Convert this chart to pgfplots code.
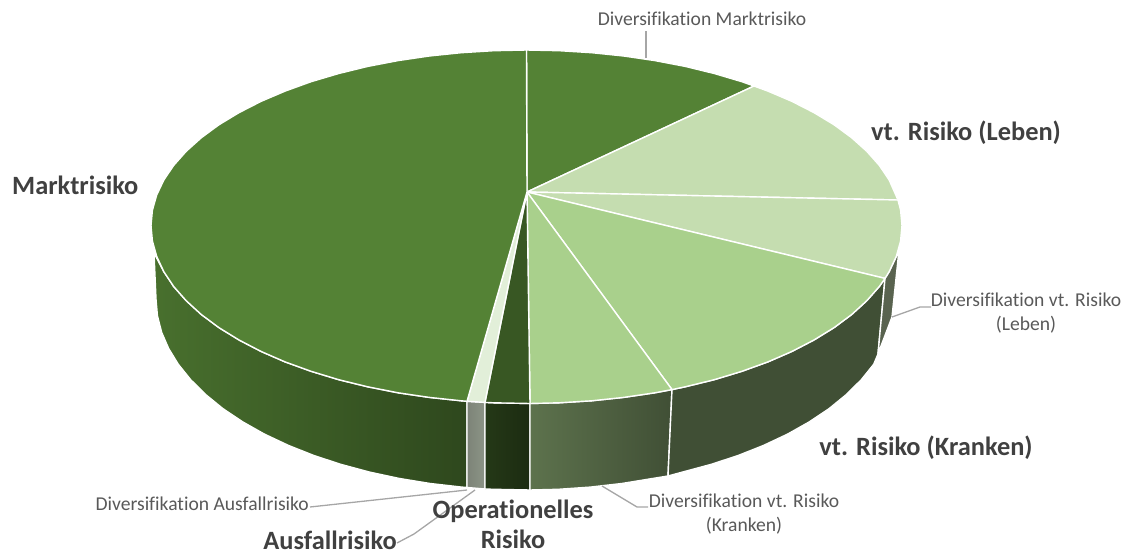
\documentclass[border=0pt]{standalone}
\usepackage{pgfplots}
\pgfplotsset{compat=1.18}
\usepackage{fontspec}
\setmainfont[Ligatures=NoCommon]{Carlito}
\definecolor{mdark}{HTML}{548235}
\definecolor{lleben}{HTML}{C5DDB0}
\definecolor{lkranken}{HTML}{A9D08C}
\definecolor{lausfall}{HTML}{E2EFD9}
\definecolor{opr}{HTML}{385723}
\definecolor{leader}{HTML}{A6A6A6}
\definecolor{smallc}{HTML}{595959}
\definecolor{bigc}{HTML}{404040}
\tikzset{
  wedge/.style={draw=white,line width=1.4pt},
  lead/.style={draw=leader,line width=1.3pt},
  sm/.style={text=smallc,font=\fontsize{19.6}{24}\selectfont,align=center,inner sep=0pt},
  bg/.style={text=bigc,font=\fontsize{26.4}{30}\selectfont\bfseries,align=center,inner sep=0pt},
}
\begin{document}
\begin{tikzpicture}
\begin{axis}[
  width=1128pt,height=554pt,scale only axis,hide axis,clip=false,
  xmin=0,xmax=1128,ymin=0,ymax=554,y dir=reverse,no markers,
  every axis plot/.append style={line join=round},
]
% --- walls ---
% Marktrisiko wall
\addplot[wedge,left color=black!14!mdark,right color=black!45!mdark] coordinates {
 (154,253) (163.8,271.6) (173.6,286.4) (186.2,300.7) (201.3,314.5) (218.9,327.6) (238.9,339.9) (261,351.4) (285.1,361.9) (311.1,371.3) (338.75,379.7) (367.8,386.8) (398.1,392.8) (429.3,397.4) (461.3,400.8) (467,401.3)
 (467,487.5) (461.8,487.1) (430.2,483.5) (399.5,478.5) (369.6,472.1) (341,464.4) (313.8,455.5) (288.2,445.3) (264.4,434.1) (242.6,421.8) (222.9,408.6) (205.6,394.5) (190.7,379.7) (178.3,364.3) (168.6,348.4) (161.6,332.2) (157.4,315.7) (156,299)} -- cycle;
% Diversifikation Ausfallrisiko wall
\addplot[wedge,left color=black!45!lausfall,right color=black!38!lausfall] coordinates {
 (467,401.3) (485,402.4) (485,489) (467,487.5)} -- cycle;
% Operationelles Risiko wall
\addplot[wedge,left color=black!35!opr,right color=black!50!opr] coordinates {
 (485,402.4) (493.8,402.8) (530,403.5) (530,490) (493.7,489.3) (485,489)} -- cycle;
% Diversifikation Kranken wall
\addplot[wedge,left color=black!45!lkranken,right color=black!62!lkranken] coordinates {
 (530,403.5) (559.2,402.8) (591.7,400.8) (623.7,397.4) (654.9,392.8) (672,389.6) (668,476) (652.5,478.5) (621.8,483.5) (590.2,487.1) (558.3,489.3) (530,490)} -- cycle;
% vt. Risiko Kranken wall
\addplot[wedge,fill=black!62!lkranken] coordinates {
 (672,389.6) (685.2,386.8) (714.25,379.7) (741.9,371.3) (767.9,361.9) (792,351.4) (814.1,339.9) (834.1,327.6) (851.7,314.5) (866.8,300.7) (879.4,286.4) (885,278.4)
 (878,354) (873.7,364.3) (861.3,379.7) (846.4,394.5) (829.1,408.6) (809.4,421.8) (787.6,434.1) (763.8,445.3) (738.2,455.5) (711,464.4) (682.4,472.1) (668,476)} -- cycle;
% Diversifikation Leben wall
\addplot[wedge,fill=black!55!lleben] coordinates {
 (885,278.4) (889.2,271.6) (896.3,256.4) (899,250) (892,317) (878,354)} -- cycle;
% --- top ---
\addplot[wedge,fill=mdark] coordinates {
 (527,192) (526.5,50) (559.2,50.7) (591.7,52.7) (623.7,56) (654.9,60.6) (685.2,66.4) (714.25,73.5) (741.9,81.7) (754,86)} -- cycle;
\addplot[wedge,fill=lleben] coordinates {
 (527,192) (754,86) (767.9,91.1) (792,101.4) (814.1,112.7) (834.1,124.8) (851.7,137.75) (866.8,151.3) (879.4,165.5) (889.2,180.1) (898,200)} -- cycle;
\addplot[wedge,fill=lleben] coordinates {
 (527,192) (898,200) (900.6,210.2) (902,225.5) (900.6,241) (896.3,256.4) (889.2,271.6) (885,278.4)} -- cycle;
\addplot[wedge,fill=lkranken] coordinates {
 (527,192) (885,278.4) (879.4,286.4) (866.8,300.7) (851.7,314.5) (834.1,327.6) (814.1,339.9) (792,351.4) (767.9,361.9) (741.9,371.3) (714.25,379.7) (685.2,386.8) (672,389.6)} -- cycle;
\addplot[wedge,fill=lkranken] coordinates {
 (527,192) (672,389.6) (654.9,392.8) (623.7,397.4) (591.7,400.8) (559.2,402.8) (530,403.5)} -- cycle;
\addplot[wedge,fill=opr] coordinates {
 (527,192) (530,403.5) (493.8,402.8) (485,402.4)} -- cycle;
\addplot[wedge,fill=lausfall] coordinates {
 (527,192) (485,402.4) (467,401.3)} -- cycle;
\addplot[wedge,fill=mdark] coordinates {
 (527,192) (467,401.3) (461.3,400.8) (429.3,397.4) (398.1,392.8) (367.8,386.8) (338.75,379.7) (311.1,371.3) (285.1,361.9) (261,351.4) (238.9,339.9) (218.9,327.6) (201.3,314.5) (186.2,300.7) (173.6,286.4) (163.8,271.6) (156.7,256.4) (152.4,241) (151,225.5)
 (152.4,210.2) (156.7,195) (163.8,180.1) (173.6,165.5) (186.2,151.3) (201.3,137.75) (218.9,124.8) (238.9,112.7) (261,101.4) (285.1,91.1) (311.1,81.7) (338.75,73.5) (367.8,66.4) (398.1,60.6) (429.3,56) (461.3,52.7) (493.8,50.7) (526.5,50)} -- cycle;
% --- leader lines ---
\addplot[lead] coordinates {(646,58) (646,31)};
\addplot[lead] coordinates {(892,317) (920,307) (931,307)};
\addplot[lead] coordinates {(602,486) (637,507) (648,507)};
\addplot[lead] coordinates {(467,490) (310,507)};
\addplot[lead] coordinates {(475,490) (414,534) (397,543)};
% --- labels ---
\node[sm] at (axis cs:702,19) {Diversifikation Marktrisiko};
\node[sm] at (axis cs:1026,313) {Diversifikation vt. Risiko\\(Leben)};
\node[sm] at (axis cs:744,514) {Diversifikation vt. Risiko\\(Kranken)};
\node[sm,anchor=east] at (axis cs:309,504) {Diversifikation Ausfallrisiko};
\node[bg,anchor=west] at (axis cs:12,185) {Marktrisiko};
\node[bg] at (axis cs:966,133) {vt. Risiko (Leben)};
\node[bg] at (axis cs:926,447.5) {vt. Risiko (Kranken)};
\node[bg] at (axis cs:513,524.5) {Operationelles\\Risiko};
\node[bg,anchor=east] at (axis cs:397,540) {Ausfallrisiko};
\end{axis}
\pgfresetboundingbox
\useasboundingbox (0,0) rectangle (1128pt,554pt);
\end{tikzpicture}
\end{document}
